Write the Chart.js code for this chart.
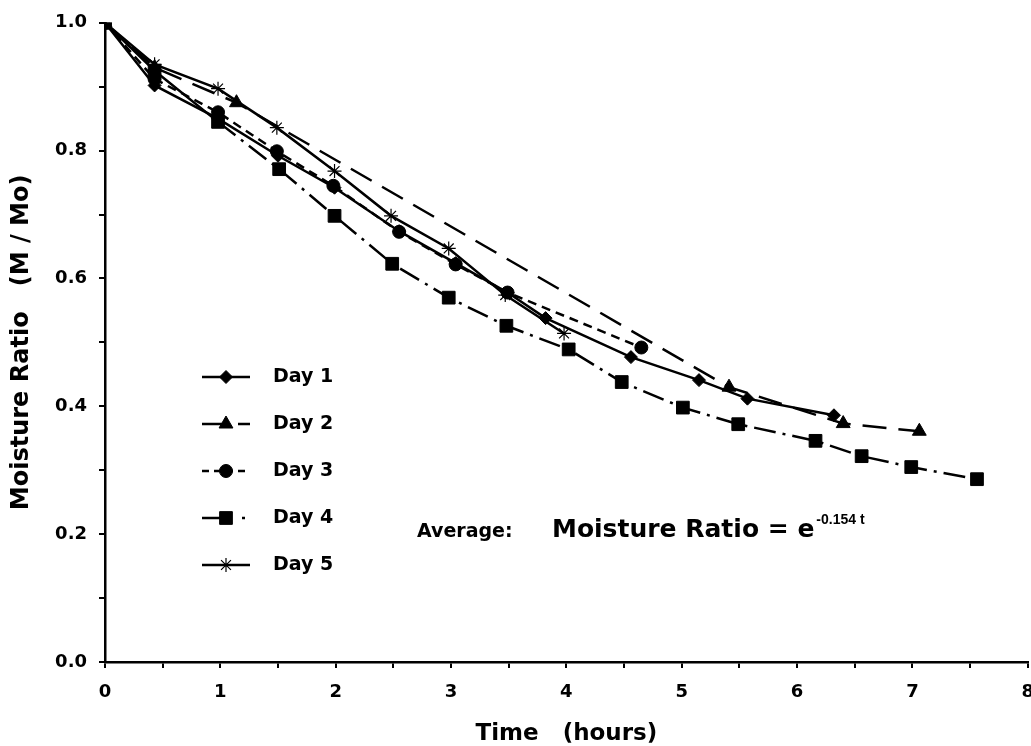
<!DOCTYPE html>
<html>
<head>
<meta charset="utf-8">
<script src="https://cdn.jsdelivr.net/npm/chart.js@4.4.1/dist/chart.umd.min.js"></script>
<style>
  html, body { margin: 0; padding: 0; background: #fff; overflow: hidden; width: 1031px; height: 746px; }
  canvas { display: block; }
</style>
</head>
<body>
<canvas id="c" width="1048" height="746"></canvas>
<script>
// ---- Data (time in hours, moisture ratio M/Mo) ----
const seriesNames = ['Day 1', 'Day 2', 'Day 3', 'Day 4', 'Day 5'];

const day1Time = [0, 0.43, 0.98, 1.50, 1.99, 2.55, 3.04, 3.49, 3.82, 4.56, 5.15, 5.57, 6.32];
const day1MR   = [1.0, 0.902, 0.850, 0.792, 0.742, 0.674, 0.624, 0.578, 0.538, 0.477, 0.441, 0.412, 0.386];

const day2Time = [0, 0.43, 1.14, 5.41, 6.40, 7.06];
const day2MR   = [1.0, 0.930, 0.875, 0.430, 0.373, 0.361];

const day3Time = [0, 0.43, 0.98, 1.49, 1.98, 2.55, 3.04, 3.49, 4.65];
const day3MR   = [1.0, 0.912, 0.860, 0.799, 0.745, 0.673, 0.622, 0.578, 0.492];

const day4Time = [0, 0.43, 0.98, 1.51, 1.99, 2.49, 2.98, 3.48, 4.02, 4.48, 5.01, 5.49, 6.16, 6.56, 6.99, 7.56];
const day4MR   = [1.0, 0.925, 0.845, 0.771, 0.698, 0.623, 0.570, 0.526, 0.489, 0.438, 0.398, 0.372, 0.346, 0.322, 0.305, 0.286];

const day5Time = [0, 0.43, 0.98, 1.49, 1.99, 2.48, 2.98, 3.47, 3.98];
const day5MR   = [1.0, 0.935, 0.897, 0.836, 0.768, 0.698, 0.647, 0.574, 0.514];

const xTickLabels = ['0', '1', '2', '3', '4', '5', '6', '7', '8'];
const yTickLabels = ['0.0', '0.2', '0.4', '0.6', '0.8', '1.0'];

const xTitle = 'Time   (hours)';
const yTitle = 'Moisture Ratio   (M / Mo)';
const noteLabel = 'Average:';
const noteFormula = 'Moisture Ratio = e';
const noteExponent = '-0.154 t';

// ---- helpers ----
const pts = (t, m) => t.map((v, i) => ({ x: v, y: m[i] }));
const FONT = 'DejaVu Sans';
const BLACK = '#000';

const styles = [
  { pointStyle: 'rectRot',  radius: 6.5, dash: [],            legendDash: [] },
  { pointStyle: 'triangle', radius: 8,   dash: [24, 12],      legendDash: [24, 12] },
  { pointStyle: 'circle',   radius: 6.5, dash: [9, 6],        legendDash: [7, 5] },
  { pointStyle: 'rect',     radius: 9,   dash: [22, 7, 3, 7], legendDash: [28, 12, 3, 20] },
  { pointStyle: 'star',     radius: 7,   dash: [],            legendDash: [] }
];

const seriesData = [
  pts(day1Time, day1MR), pts(day2Time, day2MR), pts(day3Time, day3MR),
  pts(day4Time, day4MR), pts(day5Time, day5MR)
];

const datasets = seriesData.map((d, i) => {
  const s = styles[i];
  const ds = {
    label: seriesNames[i],
    data: d,
    showLine: true,
    borderColor: BLACK,
    backgroundColor: BLACK,
    borderWidth: 2.5,
    borderDash: s.dash,
    pointStyle: s.pointStyle,
    pointRadius: s.radius,
    pointHoverRadius: s.radius,
    pointBackgroundColor: BLACK,
    pointBorderColor: BLACK,
    pointBorderWidth: s.pointStyle === 'star' ? 1.2 : 1,
    tension: 0,
    fill: false
  };
  if (i === 3) {
    ds.segment = { borderDash: ctx => ctx.p0DataIndex < 2 ? [] : s.dash };
  }
  return ds;
});

const overlay = {
  id: 'overlay',
  afterDraw(chart) {
    const { ctx } = chart;
    ctx.save();
    // legend
    const rowY0 = 377, rowStep = 47;
    const lx0 = 202, lx1 = 250, mx = 226, tx = 273;
    styles.forEach((s, i) => {
      const y = rowY0 + i * rowStep;
      ctx.strokeStyle = BLACK;
      ctx.fillStyle = BLACK;
      ctx.lineWidth = 2.5;
      ctx.setLineDash(s.legendDash);
      ctx.beginPath();
      ctx.moveTo(lx0, y);
      ctx.lineTo(lx1, y);
      ctx.stroke();
      ctx.setLineDash([]);
      const bw = s.pointStyle === 'star' ? 1.2 : 1;
      ctx.lineWidth = bw;
      Chart.helpers.drawPoint(ctx, {
        pointStyle: s.pointStyle, rotation: 0, radius: s.radius, borderWidth: bw
      }, mx, y);
      ctx.fillStyle = BLACK;
      ctx.font = 'bold 19px "' + FONT + '"';
      ctx.textBaseline = 'middle';
      ctx.textAlign = 'left';
      ctx.fillText(seriesNames[i], tx, y);
    });
    // annotation
    ctx.textBaseline = 'alphabetic';
    ctx.textAlign = 'left';
    ctx.font = 'bold 19px "' + FONT + '"';
    ctx.fillText(noteLabel, 417, 537);
    ctx.font = 'bold 25px "' + FONT + '"';
    ctx.fillText(noteFormula, 552, 537);
    const w = ctx.measureText(noteFormula).width;
    ctx.font = 'bold 14px "Liberation Sans"';
    ctx.fillText(noteExponent, 552 + w + 2, 524);
    ctx.restore();
  }
};

new Chart(document.getElementById('c'), {
  type: 'scatter',
  data: { datasets },
  plugins: [overlay],
  options: {
    responsive: false,
    animation: false,
    devicePixelRatio: 1,
    layout: { padding: { top: 20, right: 6, left: 0, bottom: 0 } },
    plugins: { legend: { display: false }, tooltip: { enabled: false } },
    scales: {
      x: {
        type: 'linear', min: 0, max: 8,
        ticks: {
          stepSize: 0.5, autoSkip: false, maxRotation: 0, color: BLACK, padding: 14,
          font: { family: FONT, weight: 'bold', size: 18 },
          callback: v => Number.isInteger(v) ? xTickLabels[v] : ''
        },
        grid: { drawOnChartArea: false, drawTicks: true, tickLength: 6, tickColor: BLACK, lineWidth: 2 },
        border: { display: true, color: BLACK, width: 2.5 },
        title: {
          display: true, text: xTitle, color: BLACK,
          font: { family: FONT, weight: 'bold', size: 23, lineHeight: 1 },
          padding: { top: 0, bottom: 0 }
        },
        afterFit: s => { s.height = 84; }
      },
      y: {
        type: 'linear', min: 0, max: 1,
        ticks: {
          stepSize: 0.1, autoSkip: false, color: BLACK, padding: 12,
          font: { family: FONT, weight: 'bold', size: 18 },
          callback: v => { const k = Math.round(v * 10); return k % 2 === 0 ? yTickLabels[k / 2] : ''; }
        },
        grid: { drawOnChartArea: false, drawTicks: true, tickLength: 6, tickColor: BLACK, lineWidth: 2 },
        border: { display: true, color: BLACK, width: 2.5 },
        title: {
          display: true, text: yTitle, color: BLACK,
          font: { family: FONT, weight: 'bold', size: 24, lineHeight: 1 },
          padding: { top: 10, bottom: 0 }
        },
        afterFit: s => { s.width = 105; }
      }
    }
  }
});
</script>
</body>
</html>
